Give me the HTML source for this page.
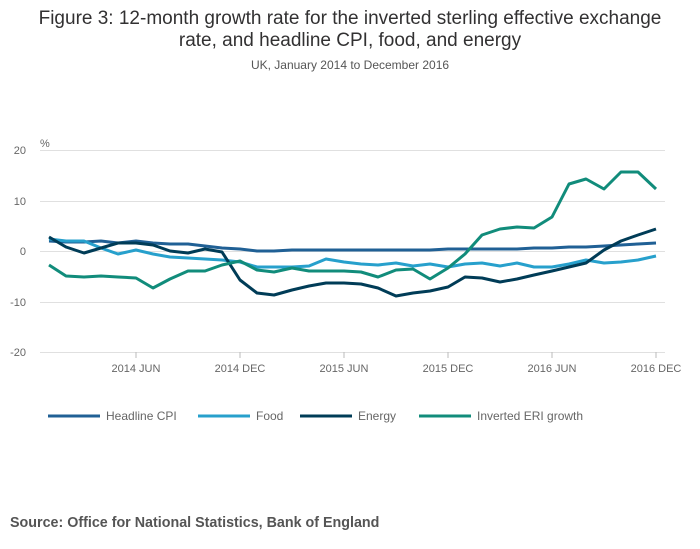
<!DOCTYPE html><html><head><style>body{margin:0;background:#fff}svg{display:block}text{font-family:"Liberation Sans",sans-serif}</style></head><body>
<svg width="700" height="549" viewBox="0 0 700 549">
<text x="350" y="24" font-size="19" fill="#323132" text-anchor="middle">Figure 3: 12-month growth rate for the inverted sterling effective exchange</text>
<text x="350" y="46" font-size="19" fill="#323132" text-anchor="middle">rate, and headline CPI, food, and energy</text>
<text x="350" y="69" font-size="12" fill="#555" text-anchor="middle">UK, January 2014 to December 2016</text>
<text x="40" y="147" font-size="11" fill="#666">%</text>
<g stroke="#e0e0e0" stroke-width="1">
<line x1="40" x2="665" y1="150.5" y2="150.5"/><line x1="40" x2="665" y1="201.5" y2="201.5"/><line x1="40" x2="665" y1="251.5" y2="251.5"/><line x1="40" x2="665" y1="302.5" y2="302.5"/><line x1="40" x2="665" y1="352.5" y2="352.5"/></g>
<g font-size="11" fill="#666" text-anchor="end">
<text x="26" y="154">20</text><text x="26" y="205">10</text><text x="26" y="255">0</text><text x="26" y="306">-10</text><text x="26" y="356">-20</text></g>
<g stroke="#bbb"><line x1="136" x2="136" y1="352" y2="358"/><line x1="240" x2="240" y1="352" y2="358"/><line x1="344" x2="344" y1="352" y2="358"/><line x1="448" x2="448" y1="352" y2="358"/><line x1="552" x2="552" y1="352" y2="358"/><line x1="656" x2="656" y1="352" y2="358"/></g>
<g font-size="11" fill="#666" text-anchor="middle">
<text x="136" y="372">2014 JUN</text><text x="240" y="372">2014 DEC</text><text x="344" y="372">2015 JUN</text><text x="448" y="372">2015 DEC</text><text x="552" y="372">2016 JUN</text><text x="656" y="372">2016 DEC</text></g>
<g fill="none" stroke-width="3" stroke-linejoin="round">
<polyline stroke="#206095" points="49,241 66,242 84,242 101,241 118,243 136,241 153,243 170,244 188,244 205,246 222,248 240,249 257,251 274,251 292,250 309,250 326,250 344,250 361,250 378,250 396,250 413,250 430,250 448,249 465,249 482,249 500,249 517,249 534,248 552,248 569,247 586,247 604,246 621,245 638,244 656,243"/>
<polyline stroke="#27a0cc" points="49,239 66,241 84,241 101,248 118,254 136,250 153,254 170,257 188,258 205,259 222,260 240,262 257,267 274,267 292,267 309,266 326,259 344,262 361,264 378,265 396,263 413,266 430,264 448,267 465,264 482,263 500,266 517,263 534,267 552,267 569,264 586,260 604,263 621,262 638,260 656,256"/>
<polyline stroke="#003c57" points="49,237 66,247 84,253 101,248 118,243 136,243 153,245 170,251 188,253 205,249 222,252 240,280 257,293 274,295 292,290 309,286 326,283 344,283 361,284 378,288 396,296 413,293 430,291 448,287 465,277 482,278 500,282 517,279 534,275 552,271 569,267 586,263 604,250 621,241 638,235 656,229"/>
<polyline stroke="#118c7b" points="49,265 66,276 84,277 101,276 118,277 136,278 153,288 170,279 188,271 205,271 222,265 240,261 257,270 274,272 292,268 309,271 326,271 344,271 361,272 378,277 396,270 413,269 430,279 448,268 465,254 482,235 500,229 517,227 534,228 552,217 569,184 586,179 604,189 621,172 638,172 656,189"/>
</g>
<g font-size="12" fill="#666">
<line x1="48" x2="100" y1="416" y2="416" stroke="#206095" stroke-width="3"/><text x="106" y="420">Headline CPI</text>
<line x1="198" x2="250" y1="416" y2="416" stroke="#27a0cc" stroke-width="3"/><text x="256" y="420">Food</text>
<line x1="300" x2="352" y1="416" y2="416" stroke="#003c57" stroke-width="3"/><text x="358" y="420">Energy</text>
<line x1="419" x2="471" y1="416" y2="416" stroke="#118c7b" stroke-width="3"/><text x="477" y="420">Inverted ERI growth</text>
</g>
<text x="10" y="527" font-size="14.3" font-weight="bold" fill="#555">Source: Office for National Statistics, Bank of England</text>
</svg></body></html>
